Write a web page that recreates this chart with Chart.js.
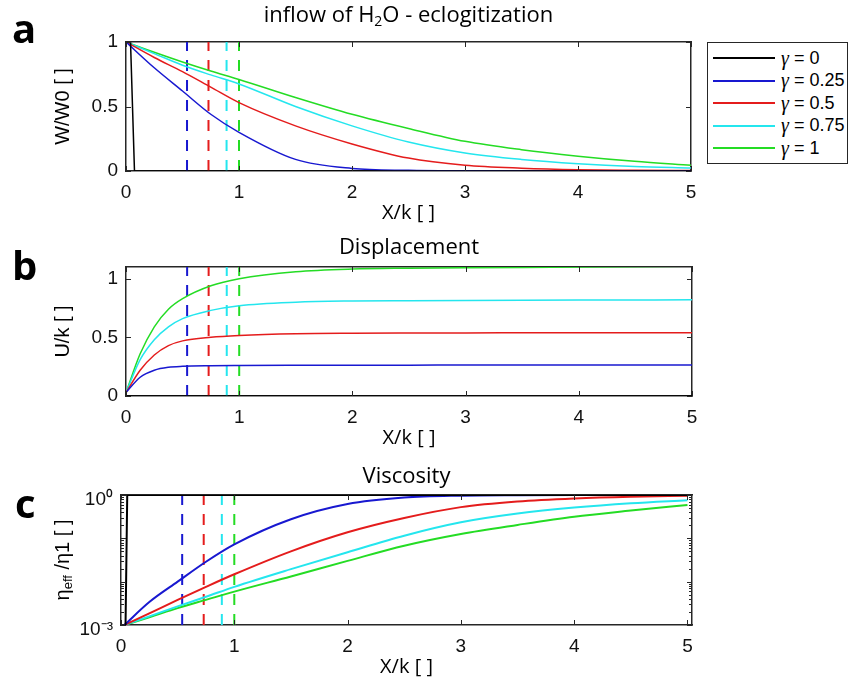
<!DOCTYPE html>
<html lang="en">
<head>
<meta charset="UTF-8">
<title>inflow of H2O - eclogitization</title>
<script src="https://cdn.jsdelivr.net/npm/chart.js@4.4.0/dist/chart.umd.min.js"></script>
<style>
    body { margin: 0; background: #fff; width: 851px; height: 678px; position: relative; overflow: hidden; }
    canvas { position: absolute; left: 0; }
    #legenda { position: absolute; left: 707px; top: 42px; width: 141px; height: 122px; border: 1px solid #262626; box-sizing: border-box; background: #fff; }
    .item { position: absolute; left: 5px; height: 22px; display: flex; align-items: center; font: 18px "Liberation Sans", Arial, sans-serif; color: #000; white-space: nowrap; }
    .item .linha { width: 62px; height: 2px; margin-right: 6px; }
    .item i { font-family: "Liberation Serif", serif; font-size: 20px; }
</style>
</head>
<body>
    <canvas id="grafA" width="851" height="230" style="top:0"></canvas>
    <canvas id="grafB" width="851" height="225" style="top:230px"></canvas>
    <canvas id="grafC" width="851" height="223" style="top:455px"></canvas>
    <div id="legenda"></div>

<script>
// ---- dados ----
const nomes = ['γ = 0', 'γ = 0.25', 'γ = 0.5', 'γ = 0.75', 'γ = 1'];
const cores = ['#000000', '#1818d0', '#e41c1c', '#24e6ee', '#24dc24'];

// posição das linhas tracejadas (X/k) para γ = 0.25, 0.5, 0.75, 1
const xTracejado = [0.54, 0.73, 0.89, 1.0];

// painel a: W/W0
const xW = [0, 0.25, 0.5, 0.75, 1, 1.5, 2, 2.5, 3, 3.5, 4, 4.5, 5];
const xWPreto = [0, 0.04, 0.075, 5];
const wPreto = [1, 1, 0, 0];
const wAzul = [1, 0.80, 0.62, 0.44, 0.30, 0.09, 0.02, 0.005, 0.001, 0, 0, 0, 0];
const wVermelho = [1, 0.88, 0.77, 0.65, 0.53, 0.35, 0.21, 0.10, 0.045, 0.022, 0.01, 0.006, 0.004];
const wCiano = [1, 0.91, 0.82, 0.745, 0.675, 0.50, 0.35, 0.225, 0.14, 0.09, 0.057, 0.035, 0.023];
const wVerde = [1, 0.92, 0.845, 0.775, 0.71, 0.57, 0.44, 0.33, 0.23, 0.165, 0.115, 0.075, 0.044];

// painel b: U/k
const xU = [0, 0.125, 0.25, 0.375, 0.5, 0.75, 1, 1.5, 2, 2.5, 3, 4, 5];
const uPreto = [0, 0, 0, 0, 0, 0, 0, 0, 0, 0, 0, 0, 0];
const uAzul = [0.03, 0.16, 0.22, 0.245, 0.253, 0.258, 0.26, 0.262, 0.263, 0.263, 0.264, 0.264, 0.265];
const uVermelho = [0.03, 0.22, 0.35, 0.43, 0.47, 0.50, 0.515, 0.53, 0.535, 0.537, 0.538, 0.54, 0.54];
const uCiano = [0.03, 0.31, 0.48, 0.59, 0.66, 0.73, 0.77, 0.80, 0.81, 0.813, 0.815, 0.818, 0.82];
const uVerde = [0.03, 0.36, 0.59, 0.74, 0.83, 0.94, 1.0, 1.06, 1.083, 1.09, 1.094, 1.099, 1.107];

// painel c: eta_eff / eta1 (escala log)
const xEta = [0.03, 0.25, 0.5, 0.75, 1, 1.5, 2, 2.5, 3, 3.5, 4, 4.5, 5];
const xEtaPreto = [0.04, 0.055, 5.04];
const etaPreto = [0.001, 1, 1];
const etaAzul = [0.001, 0.00339, 0.01, 0.0288, 0.0724, 0.275, 0.617, 0.871, 0.966, 0.991, 0.998, 1, 1];
const etaVermelho = [0.001, 0.00186, 0.0038, 0.00759, 0.0148, 0.0501, 0.138, 0.295, 0.525, 0.708, 0.832, 0.912, 0.955];
const etaCiano = [0.001, 0.00158, 0.00269, 0.00447, 0.00759, 0.0195, 0.0479, 0.115, 0.234, 0.372, 0.513, 0.646, 0.759];
const etaVerde = [0.001, 0.00151, 0.00245, 0.0038, 0.00589, 0.0132, 0.0302, 0.0676, 0.126, 0.204, 0.316, 0.437, 0.589];

// ---- estilo ----
const corEixo = '#262626';
const fonteTicks = { family: '"Liberation Sans", Arial, sans-serif', size: 19 };
const fTitulo = '22px "Open Sans", sans-serif';
const fTituloSub = '14px "Open Sans", sans-serif';
const fEixoX = '20px "Open Sans", sans-serif';
const fEixoY = '20px "Liberation Sans", Arial, sans-serif';
const fEixoYSub = '13px "Liberation Sans", Arial, sans-serif';
const fLetra = '700 40px "Open Sans", sans-serif';

// escreve pedaços de texto (com subscrito) centralizados em x
function escreverPartes(ctx, partes, x, y) {
    let total = 0;
    partes.forEach(p => { ctx.font = p.fonte; total += ctx.measureText(p.t).width; });
    let cursor = x - total / 2;
    partes.forEach(p => {
        ctx.font = p.fonte;
        ctx.fillText(p.t, cursor, y + (p.dy || 0));
        cursor += ctx.measureText(p.t).width;
    });
}

const textosPainel = {
    id: 'textosPainel',
    afterDraw(chart, args, opts) {
        const ctx = chart.ctx;
        const a = chart.chartArea;
        const cx = (a.left + a.right) / 2;
        ctx.save();
        ctx.fillStyle = '#000';
        ctx.textAlign = 'left';
        ctx.textBaseline = 'middle';
        escreverPartes(ctx, opts.titulo, cx, opts.tituloY);
        escreverPartes(ctx, [{ t: 'X/k [ ]', fonte: fEixoX }], cx, opts.xTituloY);
        ctx.font = fLetra;
        ctx.textBaseline = 'alphabetic';
        ctx.fillText(opts.letra, opts.letraX, opts.letraY);
        ctx.textBaseline = 'middle';
        ctx.translate(63, (a.top + a.bottom) / 2);
        ctx.rotate(-Math.PI / 2);
        escreverPartes(ctx, opts.yTitulo, 0, 0);
        ctx.restore();
    }
};

// marcas de escala para dentro, nos quatro lados (estilo matlab)
const marcasInternas = {
    id: 'marcasInternas',
    afterDatasetsDraw(chart) {
        const ctx = chart.ctx;
        const a = chart.chartArea;
        const sx = chart.scales.x;
        const sy = chart.scales.y;
        ctx.save();
        ctx.strokeStyle = corEixo;
        ctx.lineWidth = 1;
        ctx.beginPath();
        sx.ticks.forEach(t => {
            const px = Math.round(sx.getPixelForValue(t.value)) + 0.5;
            ctx.moveTo(px, a.bottom); ctx.lineTo(px, a.bottom - 5);
            ctx.moveTo(px, a.top); ctx.lineTo(px, a.top + 5);
        });
        sy.ticks.forEach(t => {
            const py = Math.round(sy.getPixelForValue(t.value)) + 0.5;
            let len = 5;
            if (sy.type === 'logarithmic') {
                const m = t.value / Math.pow(10, Math.floor(Math.log10(t.value) + 1e-9));
                if (Math.abs(m - 1) > 1e-6) len = 3;
            }
            ctx.moveTo(a.left, py); ctx.lineTo(a.left + len, py);
            ctx.moveTo(a.right, py); ctx.lineTo(a.right - len, py);
        });
        ctx.stroke();
        ctx.restore();
    }
};

function serie(xs, ys, cor, largura, suave) {
    return {
        data: xs.map((x, i) => ({ x: x, y: ys[i] })),
        borderColor: cor, borderWidth: largura, pointRadius: 0, fill: false,
        cubicInterpolationMode: suave ? 'monotone' : 'default', tension: 0
    };
}

function tracejados(y0, y1) {
    return xTracejado.map((x, i) => ({
        data: [{ x: x, y: y0 }, { x: x, y: y1 }],
        borderColor: cores[i + 1], borderWidth: 2, borderDash: [11, 9],
        pointRadius: 0, fill: false
    }));
}

function eixoX(max, altura, posicao) {
    return {
        type: 'linear', position: posicao, min: 0, max: max,
        ticks: { display: posicao === 'bottom', stepSize: 1, includeBounds: false, padding: 10, maxRotation: 0, autoSkip: false, color: '#111', font: fonteTicks },
        grid: { drawOnChartArea: false, drawTicks: false, color: corEixo },
        border: { color: corEixo, width: 1.5 },
        afterFit: s => { s.height = altura; }
    };
}

function eixoY(cfg, largura, posicao) {
    const e = {
        type: cfg.tipo, position: posicao, min: cfg.min, max: cfg.max,
        ticks: { display: posicao === 'left', includeBounds: false, padding: 8, autoSkip: false, color: '#111', font: fonteTicks },
        grid: { drawOnChartArea: false, drawTicks: false, color: corEixo },
        border: { color: corEixo, width: 1.5 },
        afterFit: s => { s.width = largura; }
    };
    if (cfg.tipo === 'linear') {
        e.ticks.stepSize = 0.5;
        e.ticks.callback = v => String(Number(v.toFixed(2)));
    } else {
        // só marcas 1..9 de cada década, rótulos só em 10^-3 e 10^0
        e.afterBuildTicks = s => {
            s.ticks = s.ticks.filter(t => {
                const m = t.value / Math.pow(10, Math.floor(Math.log10(t.value) + 1e-9));
                return Math.abs(m - Math.round(m)) < 1e-6;
            });
        };
        e.ticks.labelOffset = 5;
        e.ticks.callback = v => (Math.abs(v - 1) < 1e-9 ? '10⁰' : (Math.abs(v - 0.001) < 1e-12 ? '10⁻³' : ''));
    }
    return e;
}

function criarPainel(id, caixa, xMax, yCfg, datasets, textos) {
    const canvas = document.getElementById(id);
    return new Chart(canvas, {
        type: 'line',
        data: { datasets: datasets },
        options: {
            responsive: false, animation: false, devicePixelRatio: 1, events: [],
            layout: { padding: { top: caixa.top, right: canvas.width - caixa.right, bottom: 0, left: 0 } },
            scales: {
                x: eixoX(xMax, canvas.height - caixa.bottom, 'bottom'),
                x2: eixoX(xMax, 0, 'top'),
                y: eixoY(yCfg, caixa.left, 'left'),
                y2: eixoY(yCfg, 0, 'right')
            },
            plugins: { legend: { display: false }, tooltip: { enabled: false }, textosPainel: textos }
        },
        plugins: [marcasInternas, textosPainel]
    });
}

// painel a
criarPainel('grafA', { left: 126, right: 691, top: 42, bottom: 171 }, 5,
    { tipo: 'linear', min: 0, max: 1 },
    [
        serie(xWPreto, wPreto, cores[0], 1.5, false),
        serie(xW, wAzul, cores[1], 1.5, true),
        serie(xW, wVermelho, cores[2], 1.5, true),
        serie(xW, wCiano, cores[3], 1.5, true),
        serie(xW, wVerde, cores[4], 1.5, true)
    ].concat(tracejados(0, 1)),
    {
        titulo: [{ t: 'inflow of H', fonte: fTitulo }, { t: '2', fonte: fTituloSub, dy: 6 }, { t: 'O - eclogitization', fonte: fTitulo }],
        tituloY: 16, xTituloY: 213,
        yTitulo: [{ t: 'W/W0 [ ]', fonte: fEixoY }],
        letra: 'a', letraX: 12, letraY: 43
    });

// painel b
criarPainel('grafB', { left: 126, right: 692, top: 37, bottom: 166 }, 5,
    { tipo: 'linear', min: 0, max: 1.1 },
    [
        serie(xU, uPreto, cores[0], 1.5, false),
        serie(xU, uAzul, cores[1], 1.5, true),
        serie(xU, uVermelho, cores[2], 1.5, true),
        serie(xU, uCiano, cores[3], 1.5, true),
        serie(xU, uVerde, cores[4], 1.5, true)
    ].concat(tracejados(0, 1.1)),
    {
        titulo: [{ t: 'Displacement', fonte: fTitulo }],
        tituloY: 18, xTituloY: 208,
        yTitulo: [{ t: 'U/k [ ]', fonte: fEixoY }],
        letra: 'b', letraX: 12, letraY: 50
    });

// painel c
criarPainel('grafC', { left: 121, right: 692, top: 40, bottom: 170 }, 5.04,
    { tipo: 'logarithmic', min: 0.001, max: 1 },
    [
        serie(xEtaPreto, etaPreto, cores[0], 2, false),
        serie(xEta, etaAzul, cores[1], 2, true),
        serie(xEta, etaVermelho, cores[2], 2, true),
        serie(xEta, etaCiano, cores[3], 2, true),
        serie(xEta, etaVerde, cores[4], 2, true)
    ].concat(tracejados(0.001, 1)),
    {
        titulo: [{ t: 'Viscosity', fonte: fTitulo }],
        tituloY: 22, xTituloY: 212,
        yTitulo: [{ t: 'η', fonte: fEixoY }, { t: 'eff', fonte: fEixoYSub, dy: 5 }, { t: ' /η1 [ ]', fonte: fEixoY }],
        letra: 'c', letraX: 15, letraY: 63
    });

// legenda
const legenda = document.getElementById('legenda');
nomes.forEach((nome, i) => {
    const item = document.createElement('div');
    item.className = 'item';
    item.style.top = (4 + i * 22.5) + 'px';
    item.innerHTML = '<span class="linha" style="background:' + cores[i] + '"></span><i>γ</i>&nbsp;' + nome.slice(2);
    legenda.appendChild(item);
});
</script>
</body>
</html>
